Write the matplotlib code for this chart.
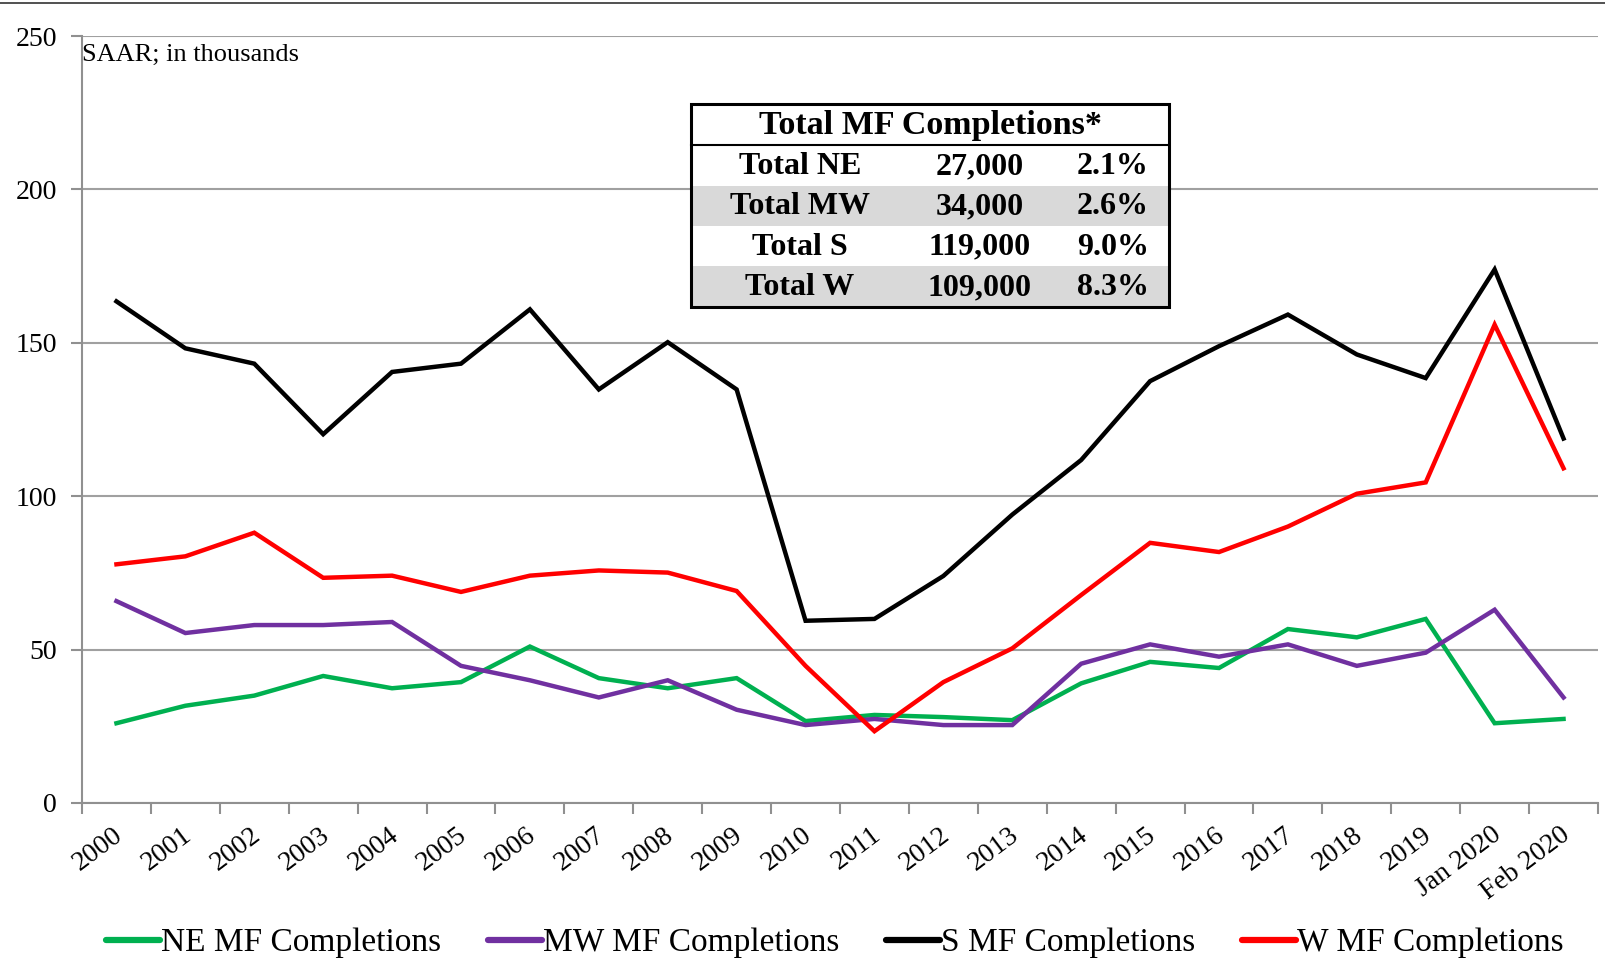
import matplotlib
matplotlib.use("Agg")
import matplotlib.pyplot as plt
from matplotlib.patches import Rectangle
from matplotlib.lines import Line2D
import matplotlib.transforms as mtransforms

categories = ["2000", "2001", "2002", "2003", "2004", "2005", "2006", "2007", "2008", "2009",
              "2010", "2011", "2012", "2013", "2014", "2015", "2016", "2017", "2018", "2019",
              "Jan 2020", "Feb 2020"]
ne = [26, 31.7, 35, 41.4, 37.4, 39.4, 51, 40.7, 37.4, 40.7, 26.7, 28.7, 28, 27, 39, 46, 44,
      56.7, 54, 60, 26, 27.4]
mw = [65.8, 55.4, 58, 58, 59, 44.7, 40, 34.4, 40, 30.4, 25.4, 27.4, 25.4, 25.4, 45.4, 51.7,
      47.7, 51.7, 44.7, 49, 63, 34.4]
s = [163.5, 148.2, 143.2, 120.2, 140.5, 143.2, 160.9, 134.8, 150.2, 134.8, 59.4, 60, 74, 94,
     111.8, 137.5, 148.9, 159.2, 146.2, 138.5, 173.9, 118.8]
w = [77.8, 80.4, 88.1, 73.4, 74.1, 68.8, 74.1, 75.8, 75.1, 69.1, 44.7, 23.4, 39.4, 50.4, 67.8,
     84.8, 81.8, 90.1, 100.8, 104.5, 155.9, 109.1]
series_labels = ["NE MF Completions", "MW MF Completions", "S MF Completions", "W MF Completions"]
series_colors = ["#00b050", "#7030a0", "#000000", "#ff0000"]

table_title = "Total MF Completions*"
table_regions = ["Total NE", "Total MW", "Total S", "Total W"]
table_counts = ["27,000", "34,000", "119,000", "109,000"]
table_pcts = ["2.1%", "2.6%", "9.0%", "8.3%"]

plt.rcParams['font.family'] = ['Liberation Serif', 'DejaVu Serif']

W, H = 1606, 976
fig = plt.figure(figsize=(W / 100, H / 100), dpi=100)
ax = fig.add_axes([82 / W, 1 - 803 / H, (1598 - 82) / W, (803 - 36) / H])

x = list(range(len(categories)))
for vals, lab, col in zip([ne, mw, s, w], series_labels, series_colors):
    ax.plot(x, vals, color=col, lw=3.2, label=lab, solid_joinstyle='miter')

ax.set_xlim(-0.5, len(categories) - 0.5)
ax.set_ylim(0, 250)
ax.set_yticks([0, 50, 100, 150, 200, 250])
ax.yaxis.grid(True, color="#a0a0a0", lw=1.5)
ax.set_axisbelow(True)
for sp in ["top", "right"]:
    ax.spines[sp].set_visible(False)
for sp in ["left", "bottom"]:
    ax.spines[sp].set_color("#909090")
    ax.spines[sp].set_linewidth(1.5)

ax.set_xticks([i - 0.5 for i in range(len(categories) + 1)])
ax.set_xticklabels([])
ax.set_xticks(x, minor=True)
ax.set_xticklabels(categories, minor=True, rotation=37, ha='right', va='top',
                   rotation_mode='anchor', fontsize=20)
ax.tick_params(axis='x', which='major', length=8, width=1.5, color="#909090", direction='out')
ax.tick_params(axis='x', which='minor', length=0, pad=14)
ax.tick_params(axis='y', length=8, width=1.5, color="#909090", labelsize=20, pad=10)
for lbl in ax.get_xticklabels(minor=True):
    lbl.set_transform(lbl.get_transform() + mtransforms.ScaledTranslation(-3 / 72, 0, fig.dpi_scale_trans))

ax.text(0.0, 0.99, "SAAR; in thousands", transform=ax.transAxes, ha='left', va='top', fontsize=19)

leg = fig.legend(loc='center', bbox_to_anchor=(0.52, 1 - 943 / H), ncol=4, frameon=False,
                 fontsize=24, handlelength=1.6, handletextpad=0.05, columnspacing=1.4)
for lh in leg.get_lines():
    lh.set_linewidth(4.5)
    lh.set_solid_capstyle('round')

# table
def fx(px):
    return px / W

def fy(py):
    return 1 - py / H

tx0, tx1 = 691, 1169
row_edges = [104, 145, 186, 226, 266, 307]
for i in range(4):
    fc = "#d9d9d9" if i % 2 == 1 else "white"
    fig.add_artist(Rectangle((fx(tx0), fy(row_edges[i + 2])), fx(tx1) - fx(tx0),
                             fy(row_edges[i + 1]) - fy(row_edges[i + 2]),
                             transform=fig.transFigure, facecolor=fc, edgecolor='none', zorder=5))
fig.add_artist(Rectangle((fx(tx0), fy(row_edges[1])), fx(tx1) - fx(tx0),
                         fy(row_edges[0]) - fy(row_edges[1]),
                         transform=fig.transFigure, facecolor="white", edgecolor='none', zorder=5))
fig.add_artist(Rectangle((fx(tx0), fy(row_edges[-1])), fx(tx1) - fx(tx0),
                         fy(row_edges[0]) - fy(row_edges[-1]),
                         transform=fig.transFigure, facecolor="none", edgecolor='black', lw=2.2, zorder=7))
fig.add_artist(Line2D([fx(tx0), fx(tx1)], [fy(row_edges[1]), fy(row_edges[1])],
                      transform=fig.transFigure, color='black', lw=1.5, zorder=7))
fig.text(fx((tx0 + tx1) / 2), fy((row_edges[0] + row_edges[1]) / 2 + 1), table_title,
         ha='center', va='center', fontsize=24.5, fontweight='bold', zorder=8)
col_x = [800, 980, 1113]
for i in range(4):
    yc = fy((row_edges[i + 1] + row_edges[i + 2]) / 2 + 1)
    for cx, txt in zip(col_x, [table_regions[i], table_counts[i], table_pcts[i]]):
        fig.text(fx(cx), yc, txt, ha='center', va='center', fontsize=23, fontweight='bold', zorder=8)

fig.add_artist(Line2D([0, 1], [fy(3), fy(3)], transform=fig.transFigure, color='#333333', lw=1.2))

fig.savefig("out.png", dpi=100)
